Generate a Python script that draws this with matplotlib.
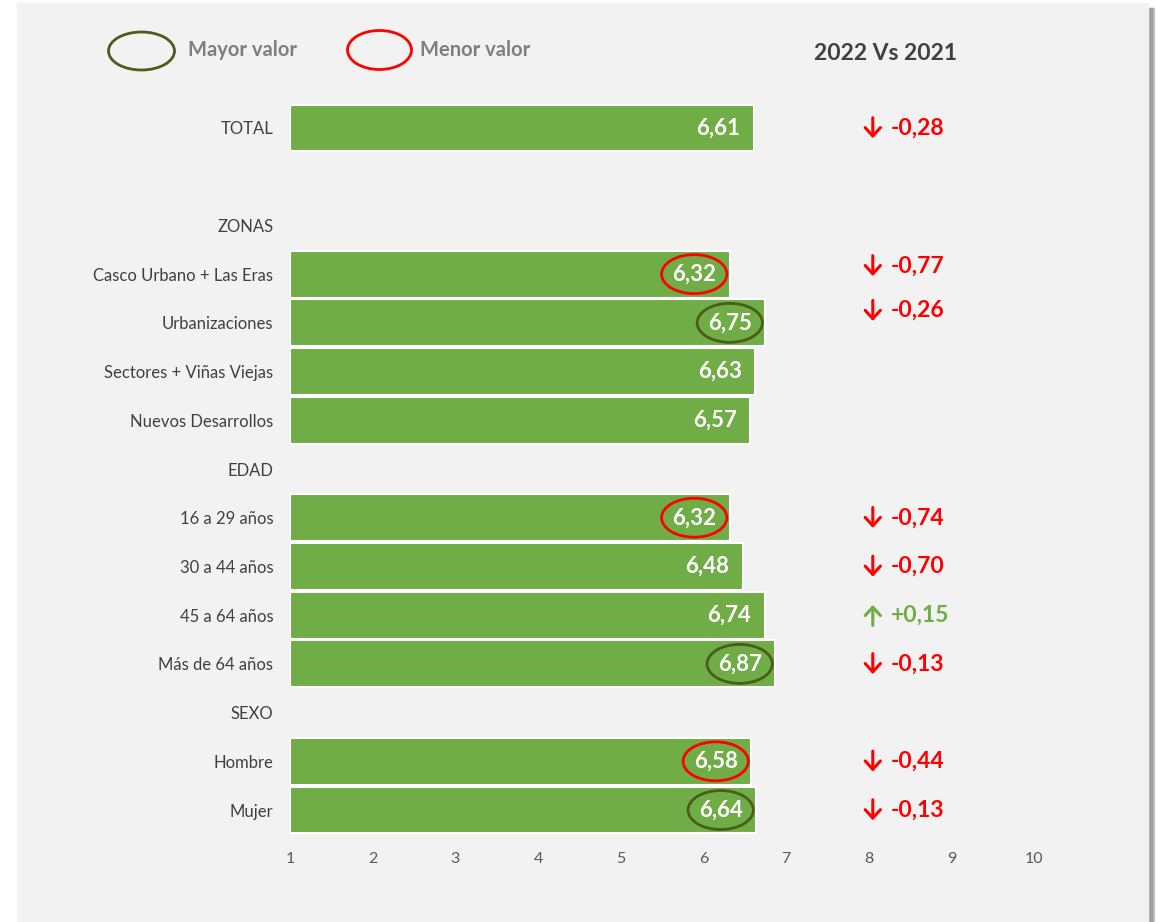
import matplotlib.pyplot as plt
from matplotlib.patches import Ellipse, Rectangle

plt.rcParams['font.family'] = ['Lato', 'DejaVu Sans']

# rows top to bottom; None = empty row, headings have no value
labels = ["TOTAL", "", "ZONAS", "Casco Urbano + Las Eras", "Urbanizaciones",
          "Sectores + Viñas Viejas", "Nuevos Desarrollos", "EDAD",
          "16 a 29 años", "30 a 44 años", "45 a 64 años", "Más de 64 años",
          "SEXO", "Hombre", "Mujer"]
values = [6.61, None, None, 6.32, 6.75, 6.63, 6.57, None,
          6.32, 6.48, 6.74, 6.87, None, 6.58, 6.64]
changes = [-0.28, None, None, -0.77, -0.26, None, None, None,
           -0.74, -0.70, 0.15, -0.13, None, -0.44, -0.13]
mark_max = ["Urbanizaciones", "Más de 64 años", "Mujer"]
mark_min = ["Casco Urbano + Las Eras", "16 a 29 años", "Hombre"]
ticks = list(range(1, 11))

GREEN = '#70ad47'
OLIVE = '#4a5d1c'
RED = '#ff0000'
W, H = 1157, 922


def fmt(v):
    return f"{v:.2f}".replace('.', ',')


fig = plt.figure(figsize=(W / 100, H / 100), dpi=100)
fig.patch.set_facecolor('white')
# panel and shadow
for i, c in enumerate(['#d0d0d0', '#b8b8b8', '#a0a0a0']):
    fig.add_artist(Rectangle(((1148 + 3 - i) / W, 0), 3 / W, 1 - 8 / H,
                             transform=fig.transFigure, color=c, zorder=-3))
fig.add_artist(Rectangle((17 / W, 0), (1148 - 17) / W, 1 - 3 / H,
                         transform=fig.transFigure, color='#f2f2f2', zorder=-2))

ax = fig.add_axes([290 / W, 1 - 834.4 / H, (1034 - 290) / W, (834.4 - 103.6) / H])
ax.set_facecolor('none')
ax.set_xlim(1, 10)
ax.set_ylim(len(labels) - 0.5, -0.5)

rows = [i for i, v in enumerate(values) if v is not None]
ax.barh(rows, [values[i] - 1 for i in rows], left=1, height=0.96,
        color=GREEN, edgecolor='white', linewidth=1.5)

for i in rows:
    name = labels[i]
    xc = values[i] - 0.43
    ax.text(xc, i, fmt(values[i]), ha='center', va='center',
            color='white', fontsize=16, fontweight='bold')
    if name in mark_max or name in mark_min:
        ec = OLIVE if name in mark_max else RED
        ax.add_patch(Ellipse((xc, i), 0.79, 0.80, fc='none', ec=ec, lw=2, zorder=4))

# change vs 2021, zona rows sit a bit higher
shift = {3: -0.17, 4: -0.25}
for i, c in enumerate(changes):
    if c is None:
        continue
    col = GREEN if c > 0 else RED
    y = i + shift.get(i, 0)
    d = -0.21 if c > 0 else 0.21
    ax.annotate('', xy=(8.05, y + d), xytext=(8.05, y - d),
                arrowprops=dict(arrowstyle='->,head_length=0.6,head_width=0.55',
                                lw=2.2, color=col, shrinkA=0, shrinkB=0))
    ax.text(8.27, y, f"{c:+.2f}".replace('.', ','), color=col, fontsize=16.5,
            fontweight='bold', ha='left', va='center')

ax.set_yticks(range(len(labels)))
ax.set_yticklabels(labels, fontsize=12, color='#404040')
ax.set_xticks(ticks)
ax.set_xticklabels([str(t) for t in ticks], fontsize=11.5, color='#595959')
ax.tick_params(axis='both', length=0)
ax.tick_params(axis='x', pad=13)
ax.tick_params(axis='y', pad=12)
for s in ax.spines.values():
    s.set_visible(False)

# legend
fig.add_artist(Ellipse((141.5 / W, 1 - 51 / H), 66 / W, 38 / H, transform=fig.transFigure,
                       fc='none', ec=OLIVE, lw=2))
fig.add_artist(Ellipse((379.5 / W, 1 - 50 / H), 64 / W, 39 / H, transform=fig.transFigure,
                       fc='none', ec=RED, lw=2))
fig.text(188 / W, 1 - 50 / H, "Mayor valor", fontsize=14.5, fontweight='bold',
         color='#7f7f7f', va='center')
fig.text(420 / W, 1 - 50 / H, "Menor valor", fontsize=14.5, fontweight='bold',
         color='#7f7f7f', va='center')
fig.text(885 / W, 1 - 53 / H, "2022 Vs 2021", fontsize=16.5, fontweight='bold',
         color='#404040', va='center', ha='center')

fig.savefig("out.png", dpi=100)
